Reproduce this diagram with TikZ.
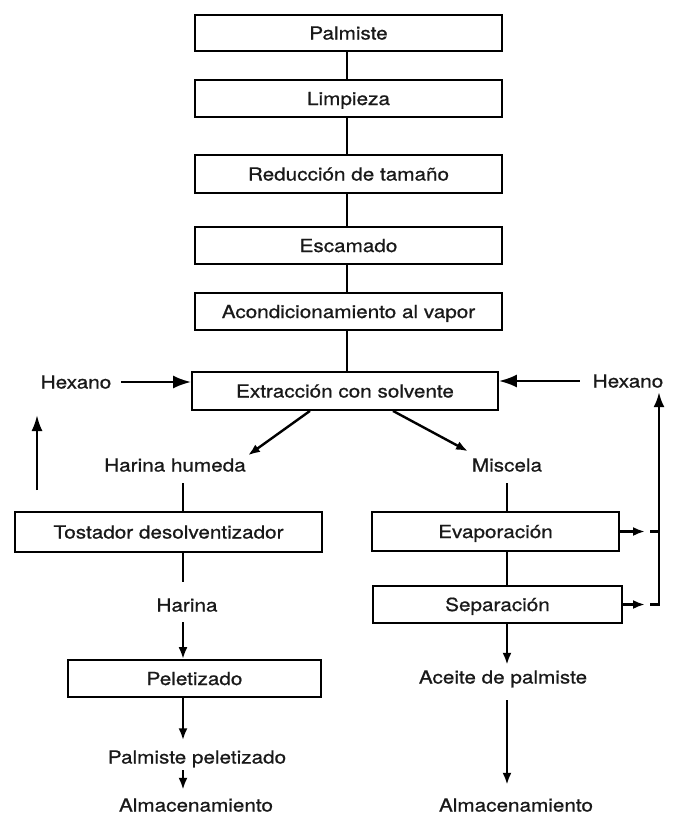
\documentclass[tikz,border=0pt]{standalone}
\usepackage{fontspec}
\setmainfont{TeX Gyre Heros}[FakeStretch=1.15,FakeBold=0.8]
\usetikzlibrary{arrows.meta,calc}
\begin{document}
\begin{tikzpicture}[x=1pt,y=-1pt,
  font=\fontsize{18}{20}\selectfont,
  box/.style={draw, line width=1.8pt, inner sep=0pt, text height=13pt, text depth=0pt, text=black!90},
  lbl/.style={inner sep=0pt, text height=13pt, text depth=0pt, text=black!90},
  conn/.style={line width=2.4pt},
  arr/.style={conn, -{Latex[length=12pt,width=9pt]}},
  bigarr/.style={conn, -{Latex[length=18pt,width=13pt]}}]
\useasboundingbox (0,0) rectangle (676,815);
% column guides
\coordinate (colL) at (183,0);
\coordinate (colR) at (507,0);
\coordinate (ret) at (659,0);
% boxes
\node[box, minimum width=307pt, minimum height=36pt] (palm) at (348.5,33) {Palmiste};
\node[box, minimum width=307pt, minimum height=37pt] (limp) at (348.5,98.5) {Limpieza};
\node[box, minimum width=307pt, minimum height=38pt] (red) at (348.5,174) {Reducción de tamaño};
\node[box, minimum width=307pt, minimum height=37pt] (esc) at (348.5,245.5) {Escamado};
\node[box, minimum width=307pt, minimum height=37pt] (acond) at (348.5,311.5) {Acondicionamiento al vapor};
\node[box, minimum width=306pt, minimum height=38pt] (extr) at (345,391) {Extracción con solvente};
\node[box, minimum width=307pt, minimum height=40pt] (tost) at (168.5,532) {Tostador desolventizador};
\node[box, minimum width=253pt, minimum height=37pt] (pele) at (194.5,678.5) {Peletizado};
\node[box, minimum width=247pt, minimum height=39pt] (evap) at (495.5,531.5) {Evaporación};
\node[box, minimum width=249pt, minimum height=37pt] (sep) at (497.5,604.5) {Separación};
% labels
\node[lbl] (hexL) at (76,382) {Hexano};
\node[lbl] (hexR) at (628,381) {Hexano};
\node[lbl] (hh) at (175,465) {Harina humeda};
\node[lbl] (misc) at (507,465) {Miscela};
\node[lbl] (har) at (187,605) {Harina};
\node[lbl] (pp) at (197,757) {Palmiste peletizado};
\node[lbl] (almL) at (196,805) {Almacenamiento};
\node[lbl] (ace) at (503,677) {Aceite de palmiste};
\node[lbl] (almR) at (516,805) {Almacenamiento};
% main chain
\draw[conn] (palm.south -| 347,0) -- (limp.north -| 347,0);
\draw[conn] (limp.south -| 347,0) -- (red.north -| 347,0);
\draw[conn] (red.south -| 347,0) -- (esc.north -| 347,0);
\draw[conn] (esc.south -| 347,0) -- (acond.north -| 347,0);
\draw[conn] (acond.south -| 347,0) -- (extr.north -| 347,0);
% hexane inputs
\draw[bigarr] ($(hexL.east)+(10,0)$) -- (extr.west |- hexL);
\draw[bigarr] ($(hexR.west)+(-13,0)$) -- (extr.east |- hexR);
% split
\draw[arr] ($(extr.south)+(-35,0)$) -- ($(hh.north)+(73,-3)$);
\draw[arr] ($(extr.south)+(48,0)$) -- ($(misc.north)+(-39,-7)$);
% left branch
\draw[conn] ($(hh.south -| colL)+(0,11.5)$) -- (tost.north -| colL);
\draw[conn] (tost.south -| colL) -- ($(har.north -| colL)+(0,-16.5)$);
\draw[arr] ($(har.south -| colL)+(0,10.5)$) -- (pele.north -| colL);
\draw[arr] (pele.south -| colL) -- ($(pp.north -| colL)+(0,-10)$);
\draw[arr] ($(pp.south -| colL)+(0,6.5)$) -- ($(almL.north -| colL)+(0,-8.5)$);
% recycle arrow left
\coordinate (upB) at (37,490);
\coordinate (upT) at (37,415);
\draw[conn, -{Latex[length=16pt,width=11pt]}] (upB) -- (upT);
% right branch
\draw[conn] ($(misc.south -| colR)+(0,11.5)$) -- (evap.north -| colR);
\draw[conn] (evap.south -| colR) -- (sep.north -| colR);
\draw[arr] (sep.south -| colR) -- ($(ace.north -| colR)+(0,-5.5)$);
\draw[arr] ($(ace.south -| colR)+(0,16.5)$) -- ($(almR.north -| colR)+(0,-13.5)$);
% solvent return
\draw[arr] (evap.east) -- ($(evap.east -| ret)+(-14,0)$);
\draw[conn] ($(evap.east -| ret)+(-9,0)$) -- (evap.east -| ret);
\draw[arr] (sep.east) -- ($(sep.east -| ret)+(-14,0)$);
\draw[conn, -{Latex[length=15pt,width=11pt]}] ($(sep.east -| ret)+(-9,0)$) -- (sep.east -| ret) -- ($(hexR.south -| ret)+(0,4.5)$);
\end{tikzpicture}
\end{document}
